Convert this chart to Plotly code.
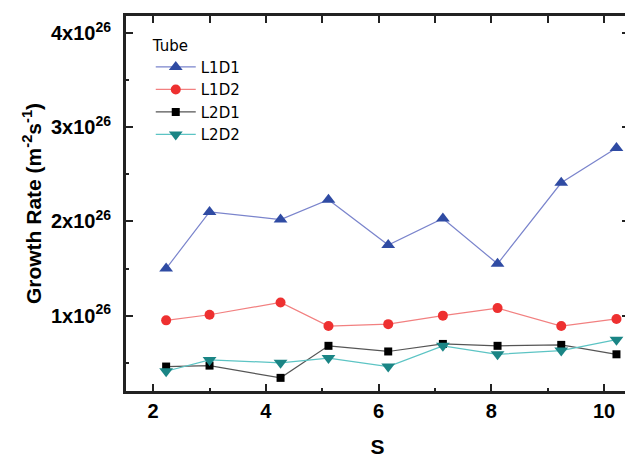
import plotly.graph_objects as go

s_values = [2.23, 3.0, 4.26, 5.11, 6.17, 7.14, 8.11, 9.24, 10.22]
l1d1 = [1.50e26, 2.10e26, 2.02e26, 2.23e26, 1.75e26, 2.03e26, 1.55e26, 2.41e26, 2.78e26]
l1d2 = [0.95e26, 1.01e26, 1.14e26, 0.89e26, 0.91e26, 1.00e26, 1.08e26, 0.89e26, 0.965e26]
l2d1 = [0.46e26, 0.47e26, 0.34e26, 0.68e26, 0.62e26, 0.70e26, 0.68e26, 0.69e26, 0.59e26]
l2d2 = [0.41e26, 0.53e26, 0.50e26, 0.55e26, 0.46e26, 0.68e26, 0.59e26, 0.63e26, 0.745e26]

y_tickvals = [1e26, 2e26, 3e26, 4e26]
y_ticktext = ["1x10<sup>26</sup>", "2x10<sup>26</sup>", "3x10<sup>26</sup>", "4x10<sup>26</sup>"]
y_minorvals = [0.5e26, 1.5e26, 2.5e26, 3.5e26]
x_range = [1.5, 10.46]
y_range = [0.19e26, 4.19e26]

series = [
    ("L1D1", l1d1, "#7a84cc", "#2f4ba3", "triangle-up", 12),
    ("L1D2", l1d2, "#f28080", "#ee3030", "circle", 10),
    ("L2D1", l2d1, "#555555", "#000000", "square", 8),
    ("L2D2", l2d2, "#5cc4c4", "#1a8585", "triangle-down", 12),
]

fig = go.Figure()
for name, vals, lc, mc, sym, sz in series:
    fig.add_trace(go.Scatter(
        x=s_values, y=vals, name=name, mode="lines+markers",
        line=dict(color=lc, width=1.2),
        marker=dict(color=mc, symbol=sym, size=sz, line=dict(width=0)),
    ))

# invisible trace so the mirrored top/right tick axes are rendered
fig.add_trace(go.Scatter(x=s_values, y=l1d1, xaxis="x2", yaxis="y2", mode="markers",
                         marker=dict(opacity=0), showlegend=False, hoverinfo="skip"))

font_fam = "Arial, Liberation Sans, sans-serif"
leg_fam = "DejaVu Sans, Arial, sans-serif"
frame_col = "#222222"
fig.update_layout(
    width=625, height=451,
    margin=dict(l=117, r=1, t=7, b=67),
    paper_bgcolor="white", plot_bgcolor="white",
    font=dict(family=font_fam, color="#000000"),
    showlegend=True,
    legend=dict(
        x=0.051, y=0.957, xanchor="left", yanchor="top",
        title=dict(text="Tube", font=dict(size=15, family=leg_fam)),
        font=dict(size=15, family=leg_fam),
        bgcolor="rgba(0,0,0,0)", tracegroupgap=0, itemwidth=40,
    ),
    xaxis=dict(
        range=x_range, tickmode="linear", tick0=0, dtick=2,
        ticks="inside", ticklen=8, tickwidth=1.5, tickcolor=frame_col,
        minor=dict(ticks="inside", ticklen=4, dtick=1, tick0=0, tickwidth=1.5, tickcolor=frame_col),
        showline=True, linecolor=frame_col, linewidth=2, mirror=True,
        showgrid=False, zeroline=False,
        tickfont=dict(size=20, family=font_fam, weight="bold"),
        ticklabelstandoff=0,
        title=dict(text="S", font=dict(size=21, family=font_fam, weight="bold"), standoff=18),
    ),
    yaxis=dict(
        range=y_range, tickmode="array", tickvals=y_tickvals, ticktext=y_ticktext,
        ticks="inside", ticklen=8, tickwidth=1.5, tickcolor=frame_col,
        minor=dict(ticks="inside", ticklen=4, tickvals=y_minorvals, tickwidth=1.5, tickcolor=frame_col),
        showline=True, linecolor=frame_col, linewidth=2, mirror=True,
        showgrid=False, zeroline=False,
        tickfont=dict(size=20, family=font_fam, weight="bold"),
        ticklabelstandoff=8,
        title=dict(text="Growth Rate (m<sup>-2</sup>s<sup>-1</sup>)",
                   font=dict(size=21, family=font_fam, weight="bold"), standoff=4),
    ),
    xaxis2=dict(
        overlaying="x", side="top", range=x_range,
        tickmode="linear", tick0=0, dtick=1,
        ticks="inside", ticklen=8, tickwidth=1.5, tickcolor=frame_col,
        showticklabels=False, showgrid=False, zeroline=False, showline=False,
    ),
    yaxis2=dict(
        overlaying="y", side="right", range=y_range,
        tickmode="array", tickvals=y_tickvals,
        ticks="inside", ticklen=8, tickwidth=1.5, tickcolor=frame_col,
        minor=dict(ticks="inside", ticklen=4, tickvals=y_minorvals, tickwidth=1.5, tickcolor=frame_col),
        showticklabels=False, showgrid=False, zeroline=False, showline=False,
    ),
    shapes=[dict(type="rect", xref="paper", yref="paper", x0=0, x1=1, y0=0, y1=1,
                 line=dict(color=frame_col, width=2), fillcolor="rgba(0,0,0,0)", layer="above")],
)

fig.write_html("out.html")
